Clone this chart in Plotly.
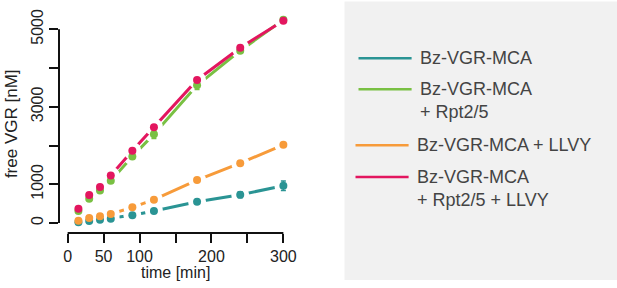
import plotly.graph_objects as go

time_min = [15, 30, 45, 60, 90, 120, 180, 240, 300]
series_names = ["Bz-VGR-MCA", "Bz-VGR-MCA<br>+ Rpt2/5", "Bz-VGR-MCA + LLVY",
                "Bz-VGR-MCA<br>+ Rpt2/5 + LLVY"]
teal_vals = [17, 52, 86, 112, 198, 309, 550, 730, 962]
teal_err = [15, 15, 15, 20, 25, 30, 40, 80, 120]
green_vals = [309, 627, 842, 1091, 1718, 2294, 3557, 4450, 5250]
green_err = [30, 40, 40, 50, 70, 110, 110, 60, 40]
orange_vals = [60, 129, 172, 232, 404, 601, 1108, 1546, 2019]
orange_err = [15, 15, 15, 20, 25, 30, 35, 40, 40]
pink_vals = [369, 722, 928, 1229, 1864, 2474, 3694, 4527, 5223]
pink_err = [30, 30, 30, 40, 40, 40, 40, 40, 40]
colors = ["#2a9494", "#79c043", "#f79b3a", "#e3165f"]

x_ticks = [0, 50, 100, 150, 200, 250, 300]
x_ticktext = ["0", "50", "100", "", "200", "", "300"]
y_ticks = [0, 1000, 2000, 3000, 4000, 5000]
y_ticktext = ["0", "1000", "", "3000", "", "5000"]

FONT = "Liberation Sans, Arial, Helvetica, sans-serif"
W, H = 617, 288
L, R, T, B = 59, 291.6, 9.6, 233

def px(x):
    return (x - L) / (R - L)

def py(y):
    return (B - y) / (B - T)

fig = go.Figure()
data = [(teal_vals, teal_err, 0), (orange_vals, orange_err, 2),
        (green_vals, green_err, 1), (pink_vals, pink_err, 3)]
for vals, err, i in data:
    fig.add_trace(go.Scatter(
        x=time_min, y=vals, mode="lines+markers", name=series_names[i],
        line=dict(color=colors[i], width=3),
        marker=dict(color=colors[i], size=8, line=dict(color="white", width=10)),
        showlegend=False))
# markers and error bars on top without white ring
for vals, err, i in data:
    fig.add_trace(go.Scatter(
        x=time_min, y=vals, mode="markers",
        marker=dict(color=colors[i], size=8),
        error_y=dict(type="data", array=err, color=colors[i], thickness=1.5, width=2.5),
        showlegend=False, hoverinfo="skip"))

shapes = [
    dict(type="line", xref="x", yref="paper", x0=x_ticks[0], x1=x_ticks[-1], y0=0, y1=0,
         line=dict(color="#111", width=2)),
    dict(type="line", xref="paper", yref="y", x0=0, x1=0, y0=y_ticks[0], y1=y_ticks[-1],
         line=dict(color="#111", width=2)),
    dict(type="rect", xref="paper", yref="paper", x0=px(344), x1=px(616), y0=py(280), y1=py(1),
         fillcolor="#f1f1f1", line=dict(width=0), layer="below"),
]
annotations = []
legend_rows = [(411, 58, 58), (411, 89, 100), (408, 145, 145), (408, 177, 188)]
for i, (x_end, ly, ty) in enumerate(legend_rows):
    x_start = x_end - 53
    shapes.append(dict(type="line", xref="paper", yref="paper", x0=px(x_start), x1=px(x_end),
                       y0=py(ly), y1=py(ly), line=dict(color=colors[i], width=2.5)))
    annotations.append(dict(xref="paper", yref="paper", x=px(x_end + 6), y=py(ty),
                            text=series_names[i], showarrow=False, xanchor="left",
                            yanchor="middle", align="left",
                            font=dict(family=FONT, size=18, color="#444")))
# axis titles
annotations.append(dict(xref="paper", yref="paper", x=px(175), y=py(273), text="time [min]",
                        showarrow=False, xanchor="center", yanchor="middle",
                        font=dict(family=FONT, size=16, color="#222")))
annotations.append(dict(xref="paper", yref="paper", x=px(11), y=py(123), text="free VGR [nM]",
                        showarrow=False, xanchor="center", yanchor="middle", textangle=-90,
                        font=dict(family=FONT, size=17, color="#222")))

fig.update_layout(
    width=W, height=H,
    margin=dict(l=L, r=W - R, t=T, b=H - B, pad=0),
    plot_bgcolor="white", paper_bgcolor="white",
    font=dict(family=FONT, size=16, color="#222"),
    shapes=shapes, annotations=annotations,
    xaxis=dict(range=[-12, 312], tickvals=x_ticks, ticktext=x_ticktext, ticks="outside",
               ticklen=9, tickwidth=2, tickcolor="#111", showgrid=False, zeroline=False,
               showline=False, automargin=False, tickfont=dict(size=16)),
    yaxis=dict(range=[-258, 5500], tickvals=y_ticks, ticktext=y_ticktext, ticks="outside",
               ticklen=9, tickwidth=2, tickcolor="#111", showgrid=False, zeroline=False,
               showline=False, automargin=False, tickangle=-90, tickfont=dict(size=16)),
)
fig.write_html("out.html", config={"displayModeBar": False},
               post_script="document.body.style.margin='0';")
